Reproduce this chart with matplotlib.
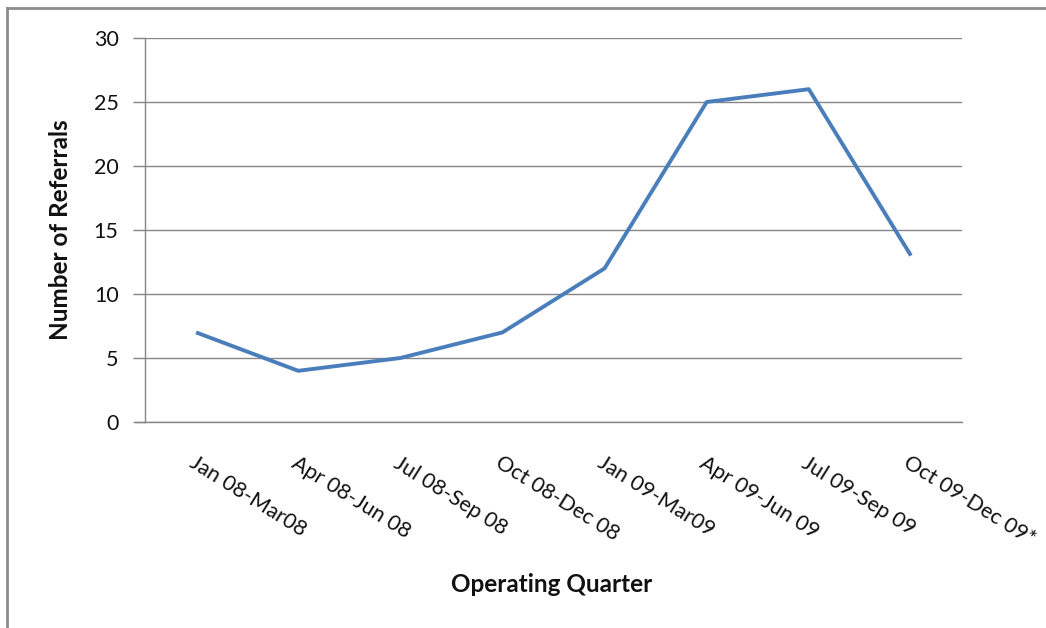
import matplotlib
matplotlib.use("Agg")
import matplotlib.pyplot as plt
from matplotlib.lines import Line2D

quarters = ["Jan 08-Mar08", "Apr 08-Jun 08", "Jul 08-Sep 08", "Oct 08-Dec 08",
            "Jan 09-Mar09", "Apr 09-Jun 09", "Jul 09-Sep 09", "Oct 09-Dec 09*"]
referrals = [7, 4, 5, 7, 12, 25, 26, 13]
y_ticks = [0, 5, 10, 15, 20, 25, 30]

plt.rcParams['font.family'] = ['Lato', 'DejaVu Sans']
grey = "#868686"

fig = plt.figure(figsize=(10.46, 6.28), dpi=100)
W, H = 1046, 628
ax = fig.add_axes([145 / W, 1 - 422 / H, (962 - 145) / W, (422 - 38) / H])

x = list(range(len(quarters)))
ax.plot(x, referrals, color="#4a7ebb", lw=2.8, solid_joinstyle="round",
        solid_capstyle="butt", zorder=3)

ax.set_xlim(-0.5, len(quarters) - 0.5)
ax.set_ylim(0, 30)
ax.set_yticks(y_ticks)
ax.yaxis.grid(True, color=grey, lw=1)
ax.set_axisbelow(True)

for side in ["top", "right"]:
    ax.spines[side].set_visible(False)
for side in ["left", "bottom"]:
    ax.spines[side].set_color(grey)
    ax.spines[side].set_linewidth(1)

ax.tick_params(axis="y", length=9, width=1, color=grey, labelsize=15.5, pad=10,
               labelcolor="#111111")
ax.tick_params(axis="x", length=0, pad=0)
ax.set_xticks(x)
ax.set_xticklabels([])
for xi, lab in zip(x, quarters):
    ax.text(xi + 0.0, -2.4, lab, rotation=-32, rotation_mode="anchor",
            ha="left", va="top", fontsize=15.5, color="#111111")

# extend the baseline to the left like the other ticks
ax.plot([-0.5 - 9 / 102, -0.5], [0, 0], color=grey, lw=1, clip_on=False)

fig.text(60 / W, 1 - 230 / H, "Number of Referrals", rotation=90, ha="center",
         va="center", fontsize=17.5, fontweight="bold", color="#111111")
fig.text(552 / W, 1 - 585 / H, "Operating Quarter", ha="center", va="center",
         fontsize=17.5, fontweight="bold", color="#111111")

# chart area frame (top and left edges)
fig.add_artist(Line2D([7 / W, 7 / W], [0, 1 - 8 / H], transform=fig.transFigure,
                      color="#8c8c8c", lw=2))
fig.add_artist(Line2D([7 / W, 1], [1 - 8 / H, 1 - 8 / H], transform=fig.transFigure,
                      color="#8c8c8c", lw=2))

fig.savefig("out.png", dpi=100)
